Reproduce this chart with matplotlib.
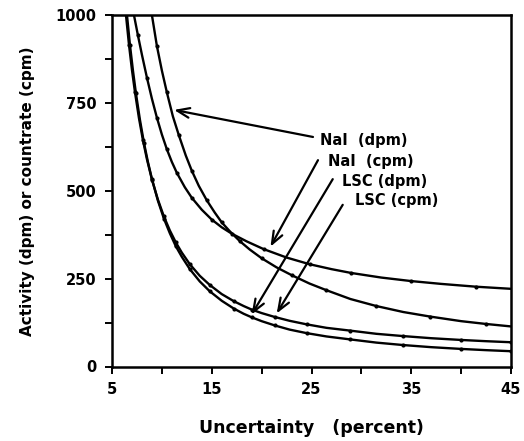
import matplotlib
matplotlib.use("Agg")
import matplotlib.pyplot as plt

# ---- data (estimated) ----
nai_dpm_x = [9.0, 9.5, 10.0, 10.5, 11.1, 11.7, 12.4, 13.0, 13.7, 14.5, 15.3, 16.0, 16.8,
             17.8, 18.8, 20.0, 21.5, 23.0, 24.8, 26.5, 28.9, 31.5, 34.2, 36.9, 40.0, 42.5, 45.0]
nai_dpm_y = [1000, 912, 842, 780, 712, 658, 600, 557, 514, 473, 438, 410, 385,
             357, 333, 308, 282, 260, 236, 217, 192, 172, 155, 142, 129, 121, 114]

nai_cpm_x = [7.2, 7.6, 8.0, 8.5, 9.0, 9.5, 10.0, 10.5, 11.0, 11.5, 12.3, 13.0, 14.0, 15.0,
             16.0, 17.0, 18.5, 20.2, 22.5, 24.8, 27.0, 29.0, 32.0, 35.0, 38.0, 41.5, 45.0]
nai_cpm_y = [1000, 942, 887, 822, 762, 708, 660, 618, 582, 551, 510, 480, 446, 418,
             396, 378, 356, 334, 310, 291, 277, 266, 253, 243, 235, 227, 221]

lsc_dpm_x = [6.5, 6.8, 7.1, 7.4, 7.8, 8.2, 8.6, 9.0, 9.6, 10.2, 10.8, 11.4, 12.0, 12.8, 13.8,
             14.8, 16.0, 17.2, 18.2, 19.0, 20.0, 21.3, 22.8, 24.5, 26.5, 28.9, 31.5, 34.2,
             37.0, 40.0, 42.5, 45.0]
lsc_dpm_y = [1000, 915, 842, 777, 702, 637, 582, 534, 472, 421, 379, 342, 312, 277, 242,
             214, 187, 165, 150, 140, 129, 117, 105, 95, 85.5, 77, 68, 61,
             55, 50, 46.5, 43.5]

lsc_cpm_x = [6.4, 6.7, 7.0, 7.3, 7.7, 8.1, 8.5, 9.0, 9.6, 10.2, 10.8, 11.4, 12.0, 12.8, 13.8,
             14.8, 16.0, 17.2, 18.2, 19.0, 20.0, 21.3, 22.8, 24.5, 26.5, 28.9, 31.5, 34.2,
             37.0, 40.0, 42.5, 45.0]
lsc_cpm_y = [1000, 916, 844, 781, 707, 644, 590, 532, 475, 427, 387, 353, 324, 291, 258,
             232, 206, 186, 172, 162, 152, 141, 130, 120, 110, 102, 93, 86.5,
             80.5, 75.5, 72, 69]

x_ticks = [5, 10, 15, 20, 25, 30, 35, 40, 45]
x_ticklabels = ["5", "", "15", "", "25", "", "35", "", "45"]
y_ticks = [0, 125, 250, 375, 500, 625, 750, 875, 1000]
y_ticklabels = ["0", "", "250", "", "500", "", "750", "", "1000"]

labels = ["NaI  (dpm)", "NaI  (cpm)", "LSC (dpm)", "LSC (cpm)"]
label_xy = [(25.85, 642), (26.65, 584), (28.06, 527), (29.36, 473)]
arrow_tail = [(25.15, 653), (25.65, 587), (27.13, 533), (28.13, 460)]
arrow_tip = [(11.22, 730), (20.89, 341), (19.0, 148), (21.51, 151)]

# ---- figure ----
fig = plt.figure(figsize=(5.24, 4.41), dpi=100)
ax = fig.add_axes([112/524, (441-366.5)/441, 399/524, 351.5/441])

for xs, ys in [(nai_dpm_x, nai_dpm_y), (nai_cpm_x, nai_cpm_y),
               (lsc_dpm_x, lsc_dpm_y), (lsc_cpm_x, lsc_cpm_y)]:
    ax.plot(xs, ys, color="black", lw=1.7, solid_joinstyle="round")
    ax.plot(xs[1::2], ys[1::2], linestyle="none", marker="o", ms=3,
            color="black", markeredgewidth=0)

ax.set_xlim(5, 45)
ax.set_ylim(0, 1000)
ax.set_xticks(x_ticks)
ax.set_xticklabels(x_ticklabels)
ax.set_yticks(y_ticks)
ax.set_yticklabels(y_ticklabels)
ax.tick_params(direction="out", length=5, width=1.4, labelsize=10.5, pad=6)
for lab in ax.get_xticklabels() + ax.get_yticklabels():
    lab.set_fontweight("bold")
for s in ax.spines.values():
    s.set_linewidth(1.8)

ax.set_xlabel("Uncertainty   (percent)", fontsize=12.5, fontweight="bold", labelpad=16)
ax.set_ylabel("Activity (dpm) or countrate (cpm)", fontsize=11, fontweight="bold", labelpad=15)

for txt, (tx, ty), tail, tip in zip(labels, label_xy, arrow_tail, arrow_tip):
    ax.text(tx, ty, txt, fontsize=10.5, fontweight="bold", ha="left", va="center")
    ax.annotate("", xy=tip, xytext=tail,
                arrowprops=dict(arrowstyle="->,head_length=0.9,head_width=0.35",
                                color="black", lw=1.6, shrinkA=0, shrinkB=0))

fig.savefig("out.png", dpi=100)
